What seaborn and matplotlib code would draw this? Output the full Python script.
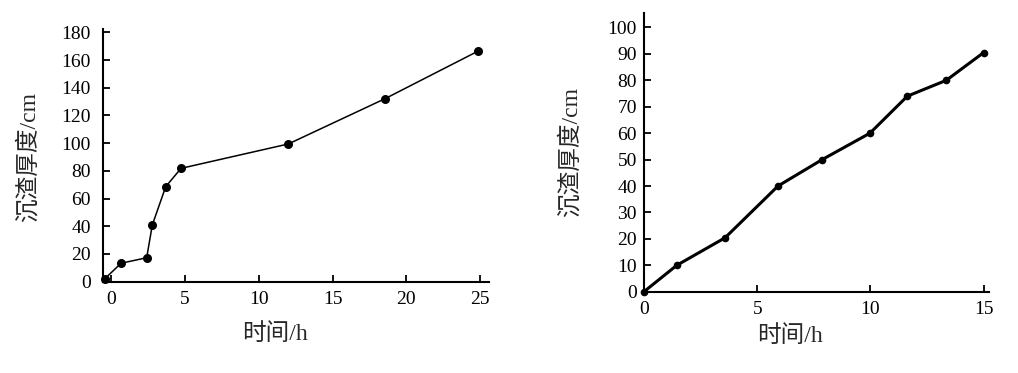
import matplotlib
matplotlib.use("Agg")
import matplotlib.pyplot as plt
import seaborn as sns
import pandas as pd

# Left chart data
left_time = [-0.45, 0.66, 2.4, 2.78, 3.69, 4.73, 12.0, 18.56, 24.88]
left_depth = [2, 13.3, 17.3, 40.9, 68.6, 81.8, 99.4, 132.1, 166.5]
left_xticks = [0, 5, 10, 15, 20, 25]
left_yticks = [0, 20, 40, 60, 80, 100, 120, 140, 160, 180]

# Right chart data
right_time = [0, 1.45, 3.58, 5.92, 7.87, 9.98, 11.63, 13.35, 15.0]
right_depth = [0, 10, 20.4, 40, 50, 60, 74, 80, 90.5]
right_xticks = [0, 5, 10, 15]
right_yticks = [0, 10, 20, 30, 40, 50, 60, 70, 80, 90, 100]

xlabel = "时间/h"
ylabel = "沉渣厚度/cm"

sns.set_style("ticks")
plt.rcParams["font.family"] = ["Liberation Serif", "Noto Sans CJK SC", "DejaVu Sans"]

fig = plt.figure(figsize=(10.18, 3.73), dpi=100)
ax1 = fig.add_axes([0.1015, 0.2448, 0.3789, 0.6775])
ax2 = fig.add_axes([0.6326, 0.218, 0.3392, 0.748])

df1 = pd.DataFrame({"t": left_time, "d": left_depth})
df2 = pd.DataFrame({"t": right_time, "d": right_depth})

sns.lineplot(data=df1, x="t", y="d", ax=ax1, color="black", linewidth=1.1,
             marker="o", markersize=6.5, markeredgewidth=0, clip_on=False)
sns.lineplot(data=df2, x="t", y="d", ax=ax2, color="black", linewidth=2.2,
             marker="o", markersize=5.5, markeredgewidth=0, clip_on=False)

ax1.set_xlim(-0.54, 25.61)
ax1.set_ylim(0, 182.4)
ax1.set_xticks(left_xticks)
ax1.set_yticks(left_yticks)

ax2.set_xlim(0.0, 15.25)
ax2.set_ylim(0, 105.6)
ax2.set_xticks(right_xticks)
ax2.set_yticks(right_yticks)

for ax in (ax1, ax2):
    sns.despine(ax=ax)
    for s in ("left", "bottom"):
        ax.spines[s].set_linewidth(1.5)
        ax.spines[s].set_color("black")
    ax.tick_params(direction="in", length=5, width=1.3, colors="black",
                   labelsize=14, pad=7)
    ax.set_xlabel(xlabel, fontsize=17)
    ax.set_ylabel(ylabel, fontsize=17)

ax1.tick_params(axis="y", pad=9)
ax2.tick_params(axis="y", pad=5)
ax1.yaxis.set_label_coords(-0.164, 0.495)
ax1.xaxis.set_label_coords(0.444, -0.165)
ax2.yaxis.set_label_coords(-0.18, 0.502)
ax2.xaxis.set_label_coords(0.422, -0.12)

fig.savefig("out.png", dpi=100)
